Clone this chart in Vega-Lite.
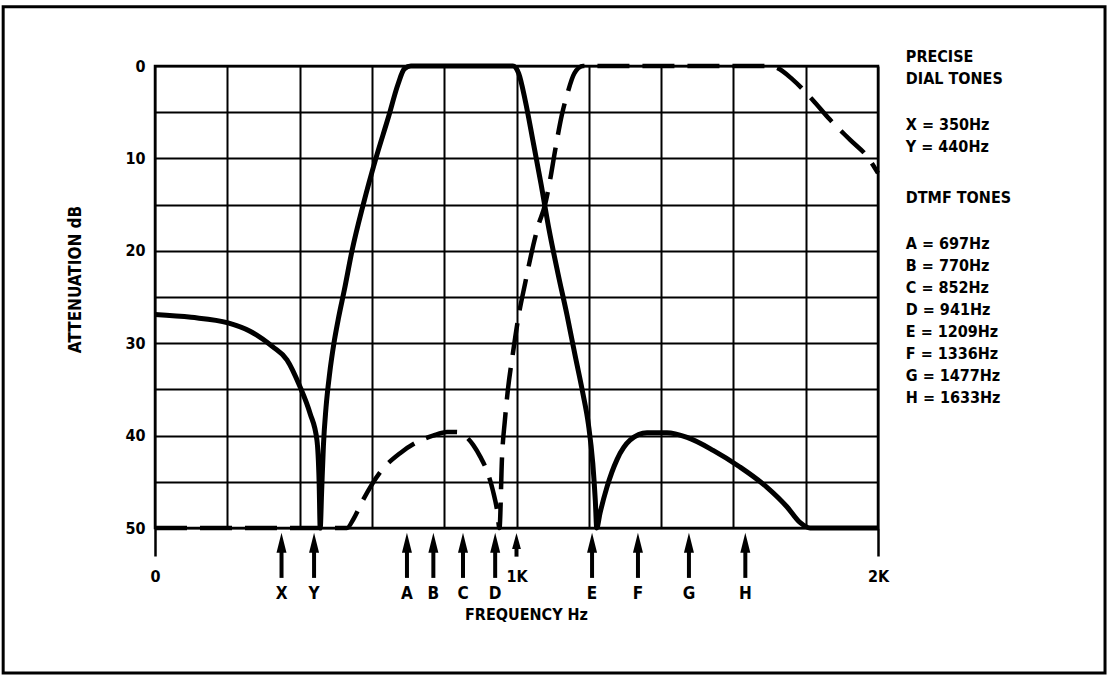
{
  "$schema": "https://vega.github.io/schema/vega-lite/v6.json",
  "width": 723,
  "height": 462,
  "autosize": {"type": "none"},
  "padding": {"left": 155, "top": 66, "right": 229, "bottom": 151},
  "background": "white",
  "config": {
    "view": {"stroke": "black", "strokeWidth": 2.5},
    "font": "'Liberation Sans Narrow', 'DejaVu Sans Condensed', 'Arial Narrow', 'Liberation Sans', sans-serif",
    "text": {"font": "'Liberation Sans Narrow', 'DejaVu Sans Condensed', 'Arial Narrow', 'Liberation Sans', sans-serif", "fontWeight": "bold", "fontSize": 16, "color": "black"}
  },
  "datasets": {
    "solid": [
      {"hz": 0, "db": 26.9}, {"hz": 100, "db": 27.2}, {"hz": 202, "db": 27.8}, {"hz": 263, "db": 28.7},
      {"hz": 326, "db": 30.4}, {"hz": 365, "db": 31.8}, {"hz": 401, "db": 34.7}, {"hz": 429, "db": 37.6},
      {"hz": 448, "db": 40.5}, {"hz": 454, "db": 45}, {"hz": 457, "db": 50}, {"hz": 461, "db": 46},
      {"hz": 466, "db": 41}, {"hz": 473, "db": 37}, {"hz": 483, "db": 33.3}, {"hz": 495, "db": 30},
      {"hz": 508, "db": 27.2}, {"hz": 524, "db": 24.2}, {"hz": 545, "db": 20}, {"hz": 576, "db": 15},
      {"hz": 611, "db": 10}, {"hz": 646, "db": 5.5}, {"hz": 672, "db": 2}, {"hz": 690, "db": 0.3},
      {"hz": 708, "db": 0}, {"hz": 990, "db": 0}, {"hz": 1006, "db": 0.8}, {"hz": 1024, "db": 3.7},
      {"hz": 1046, "db": 8.2}, {"hz": 1068, "db": 12.8}, {"hz": 1090, "db": 17.7}, {"hz": 1115, "db": 22.5},
      {"hz": 1140, "db": 27}, {"hz": 1163, "db": 31.5}, {"hz": 1183, "db": 35.3}, {"hz": 1199, "db": 38.8},
      {"hz": 1211, "db": 43}, {"hz": 1218, "db": 47}, {"hz": 1222, "db": 50}, {"hz": 1231, "db": 48.4},
      {"hz": 1250, "db": 45.6}, {"hz": 1278, "db": 42.6}, {"hz": 1314, "db": 40.5}, {"hz": 1361, "db": 39.7},
      {"hz": 1416, "db": 39.7}, {"hz": 1472, "db": 40.2}, {"hz": 1544, "db": 41.6}, {"hz": 1618, "db": 43.4},
      {"hz": 1693, "db": 45.6}, {"hz": 1748, "db": 47.7}, {"hz": 1784, "db": 49.4}, {"hz": 1812, "db": 50},
      {"hz": 2000, "db": 50}
    ],
    "dashed": [
      {"hz": 0, "db": 50}, {"hz": 531, "db": 50}, {"hz": 548, "db": 49.1},
      {"hz": 575, "db": 47}, {"hz": 622, "db": 44}, {"hz": 678, "db": 41.9}, {"hz": 725, "db": 40.7},
      {"hz": 769, "db": 40.0}, {"hz": 808, "db": 39.6}, {"hz": 835, "db": 39.6}, {"hz": 860, "db": 40.1},
      {"hz": 880, "db": 41.0}, {"hz": 900, "db": 42.3}, {"hz": 920, "db": 44}, {"hz": 935, "db": 46},
      {"hz": 946, "db": 48}, {"hz": 953, "db": 50},
      {"hz": 960, "db": 42.3}, {"hz": 968, "db": 38.3}, {"hz": 976, "db": 35.1}, {"hz": 990, "db": 31.1},
      {"hz": 1006, "db": 27.0}, {"hz": 1024, "db": 23.5}, {"hz": 1040, "db": 20.5}, {"hz": 1060, "db": 17.3},
      {"hz": 1079, "db": 15.0}, {"hz": 1093, "db": 12.3}, {"hz": 1107, "db": 9.1}, {"hz": 1126, "db": 5.2},
      {"hz": 1140, "db": 3.1}, {"hz": 1160, "db": 0.8}, {"hz": 1184, "db": 0}, {"hz": 1700, "db": 0},
      {"hz": 1721, "db": 0.2}, {"hz": 1765, "db": 1.5}, {"hz": 1820, "db": 3.7}, {"hz": 1867, "db": 5.8},
      {"hz": 1923, "db": 8.0}, {"hz": 1970, "db": 9.8}, {"hz": 2000, "db": 11.6}
    ],
    "tones": [
      {"tone": "X", "hz": 350}, {"tone": "Y", "hz": 440}, {"tone": "A", "hz": 697}, {"tone": "B", "hz": 770},
      {"tone": "C", "hz": 852}, {"tone": "D", "hz": 941}, {"tone": "E", "hz": 1209}, {"tone": "F", "hz": 1336},
      {"tone": "G", "hz": 1477}, {"tone": "H", "hz": 1633}
    ]
  },
  "layer": [
    {
      "data": {"name": "solid"},
      "mark": {"type": "line", "color": "black", "strokeWidth": 5, "interpolate": "monotone", "strokeCap": "butt", "strokeJoin": "round"},
      "encoding": {
        "x": {
          "field": "hz", "type": "quantitative",
          "scale": {"domain": [0, 2000], "nice": false, "zero": false},
          "axis": {
            "title": "FREQUENCY Hz",
            "values": [0, 200, 400, 600, 800, 1000, 1200, 1400, 1600, 1800, 2000],
            "grid": true, "gridColor": "black", "gridWidth": 2, "gridOpacity": 1,
            "domain": false,
            "ticks": true, "tickSize": 28, "tickWidth": 2.5, "tickColor": "black",
            "tickOpacity": {"condition": {"test": "datum.value === 0 || datum.value === 2000", "value": 1}, "value": 0},
            "labelExpr": "datum.value === 0 ? '0' : datum.value === 1000 ? '1K' : datum.value === 2000 ? '2K' : ''",
            "labelPadding": 12, "labelFontSize": 16, "labelFontWeight": "bold", "labelColor": "black",
            "labelFlush": false, "labelOverlap": false,
            "labelFont": "'Liberation Sans Narrow', 'DejaVu Sans Condensed', 'Arial Narrow', 'Liberation Sans', sans-serif",
            "titleFont": "'Liberation Sans Narrow', 'DejaVu Sans Condensed', 'Arial Narrow', 'Liberation Sans', sans-serif",
            "titleFontSize": 16, "titleFontWeight": "bold", "titleColor": "black", "titlePadding": 22, "titleX": 371
          }
        },
        "y": {
          "field": "db", "type": "quantitative",
          "scale": {"domain": [0, 50], "reverse": true, "nice": false, "zero": false},
          "axis": {
            "title": "ATTENUATION dB",
            "values": [0, 5, 10, 15, 20, 25, 30, 35, 40, 45, 50],
            "grid": true, "gridColor": "black", "gridWidth": 2, "gridOpacity": 1,
            "domain": false, "ticks": false,
            "labelExpr": "datum.value % 10 === 0 ? datum.label : ''",
            "labelPadding": 10, "labelFontSize": 16, "labelFontWeight": "bold", "labelColor": "black",
            "labelFlush": false, "labelOverlap": false,
            "labelFont": "'Liberation Sans Narrow', 'DejaVu Sans Condensed', 'Arial Narrow', 'Liberation Sans', sans-serif",
            "titleFont": "'Liberation Sans Narrow', 'DejaVu Sans Condensed', 'Arial Narrow', 'Liberation Sans', sans-serif",
            "titleFontSize": 17, "titleFontWeight": "bold", "titleColor": "black", "titlePadding": 40, "titleY": 213
          }
        }
      }
    },
    {
      "data": {"name": "dashed"},
      "mark": {"type": "line", "color": "black", "strokeWidth": 4.5, "interpolate": "monotone", "strokeDash": [32, 13], "strokeCap": "butt"},
      "encoding": {
        "x": {"field": "hz", "type": "quantitative"},
        "y": {"field": "db", "type": "quantitative"}
      }
    },
    {
      "data": {"name": "tones"},
      "mark": {"type": "rule", "color": "black", "strokeWidth": 4},
      "encoding": {
        "x": {"field": "hz", "type": "quantitative"},
        "y": {"datum": 52.5},
        "y2": {"datum": 55.4}
      }
    },
    {
      "data": {"name": "tones"},
      "mark": {"type": "point", "shape": "M0,-1L0.5,1L-0.5,1Z", "size": 400, "filled": true, "color": "black", "opacity": 1, "strokeWidth": 0},
      "encoding": {
        "x": {"field": "hz", "type": "quantitative"},
        "y": {"datum": 51.6}
      }
    },
    {
      "data": {"name": "tones"},
      "mark": {"type": "text", "baseline": "middle", "align": "center", "fontSize": 17},
      "encoding": {
        "x": {"field": "hz", "type": "quantitative"},
        "y": {"datum": 57.1},
        "text": {"field": "tone"}
      }
    },
    {
      "data": {"values": [{}]},
      "mark": {"type": "rule", "color": "black", "strokeWidth": 4},
      "encoding": {
        "x": {"datum": 1000},
        "y": {"datum": 52.2},
        "y2": {"datum": 53.1}
      }
    },
    {
      "data": {"values": [{}]},
      "mark": {"type": "point", "shape": "M0,-1L0.55,1L-0.55,1Z", "size": 256, "filled": true, "color": "black", "opacity": 1, "strokeWidth": 0},
      "encoding": {
        "x": {"datum": 1000},
        "y": {"datum": 51.4}
      }
    },
    {
      "data": {"values": [{}]},
      "mark": {"type": "rect", "fillOpacity": 0, "stroke": "black", "strokeWidth": 3, "clip": false},
      "encoding": {
        "x": {"datum": -420},
        "x2": {"datum": 2628},
        "y": {"datum": -6.4},
        "y2": {"datum": 65.7}
      }
    },
    {
      "data": {"values": [{}]},
      "mark": {"type": "text", "align": "left", "baseline": "top", "lineHeight": 22, "text": ["PRECISE", "DIAL TONES"]},
      "encoding": {"x": {"datum": 2077}, "y": {"datum": -1.8}}
    },
    {
      "data": {"values": [{}]},
      "mark": {"type": "text", "align": "left", "baseline": "top", "lineHeight": 22, "text": ["X = 350Hz", "Y = 440Hz"]},
      "encoding": {"x": {"datum": 2077}, "y": {"datum": 5.5}}
    },
    {
      "data": {"values": [{}]},
      "mark": {"type": "text", "align": "left", "baseline": "top", "lineHeight": 22, "text": ["DTMF TONES"]},
      "encoding": {"x": {"datum": 2077}, "y": {"datum": 13.4}}
    },
    {
      "data": {"values": [{}]},
      "mark": {"type": "text", "align": "left", "baseline": "top", "lineHeight": 21.9, "text": ["A = 697Hz", "B = 770Hz", "C = 852Hz", "D = 941Hz", "E = 1209Hz", "F = 1336Hz", "G = 1477Hz", "H = 1633Hz"]},
      "encoding": {"x": {"datum": 2077}, "y": {"datum": 18.45}}
    }
  ]
}
